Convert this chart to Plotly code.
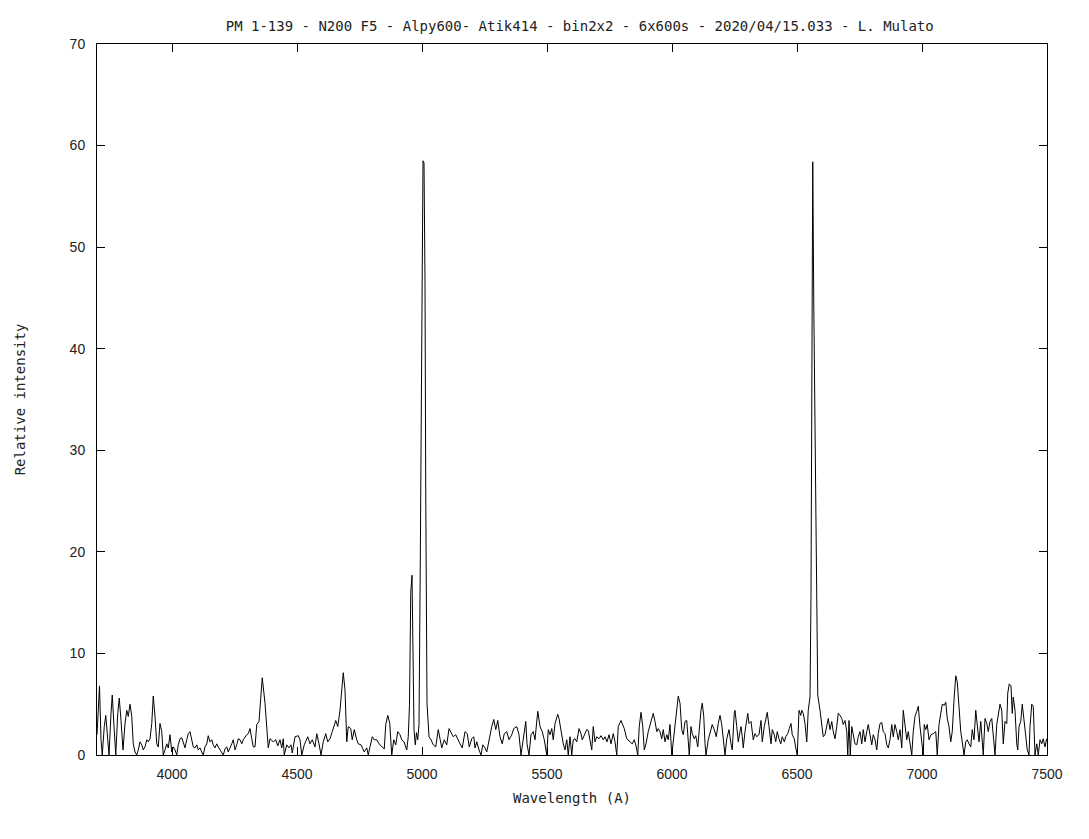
import plotly.graph_objects as go

# Wavelength (Angstrom) and relative intensity
wl_blue = [3700, 3710, 3716, 3721, 3729, 3735, 3743, 3748, 3756, 3761,
           3768, 3775, 3783, 3789, 3796, 3804, 3812, 3819, 3825, 3832,
           3839, 3845, 3852, 3859, 3865, 3872, 3879, 3885, 3892, 3899,
           3905, 3912, 3919, 3925, 3932, 3939, 3945, 3952, 3959, 3965,
           3972, 3979, 3985, 3992, 3999, 4005, 4012, 4019, 4025, 4032,
           4039, 4045, 4052, 4059, 4065, 4072, 4079, 4085, 4092, 4099,
           4105, 4112, 4119, 4125, 4132, 4139, 4145, 4152, 4159, 4165,
           4172, 4179, 4185, 4192, 4199, 4205, 4212, 4219, 4225, 4232,
           4239, 4245, 4252, 4259, 4265, 4272, 4279, 4285, 4292, 4299,
           4305, 4312, 4319, 4325]
int_blue = [2.0, 6.8, 1.5, 0.0, 2.8, 3.9, 1.5, 0.0, 4.1, 5.9,
            2.8, 0.0, 4.1, 5.6, 3.4, 0.5, 3.1, 4.4, 3.8, 5.0,
            3.8, 1.1, 0.3, 0.0, 0.5, 1.3, 1.0, 0.5, 0.8, 1.5,
            1.3, 1.6, 3.1, 5.8, 3.8, 1.1, 0.8, 3.1, 2.3, 0.0,
            0.5, 1.1, 0.7, 2.0, 0.3, 0.8, 0.5, 0.0, 1.0, 1.6,
            1.7, 1.1, 0.7, 1.5, 2.1, 2.3, 1.5, 0.8, 0.7, 1.0,
            0.5, 0.7, 0.3, 0.0, 0.8, 1.1, 1.9, 1.3, 1.5, 1.0,
            0.7, 1.1, 0.8, 0.5, 0.2, 0.0, 0.6, 0.8, 0.3, 0.8,
            1.1, 1.5, 0.5, 1.0, 1.6, 1.5, 1.1, 1.5, 1.8, 2.0,
            2.1, 2.6, 1.6, 0.8]

wl_mid = [4332, 4339, 4348, 4361, 4372, 4379, 4385, 4392, 4405, 4415,
          4423, 4432, 4439, 4445, 4449, 4459, 4468, 4476, 4481, 4492,
          4505, 4512, 4519, 4529, 4543, 4552, 4561, 4572, 4579, 4588,
          4596, 4605, 4615, 4623, 4632, 4641, 4649, 4655, 4663, 4672,
          4679, 4685, 4692, 4699, 4705, 4715, 4721, 4729, 4739, 4745,
          4756, 4761, 4769, 4779, 4785, 4792, 4801, 4809, 4819, 4828,
          4839, 4849, 4855, 4863, 4871, 4879, 4887, 4895, 4903, 4912,
          4919, 4928, 4939, 4945,
          4950, 4955, 4960, 4964, 4968, 4973, 4978, 4983, 4988, 4993,
          4998, 5004, 5008, 5012, 5015, 5020,
          5028, 5036, 5045, 5055, 5065, 5072, 5079, 5089, 5099, 5108,
          5119, 5125, 5135, 5143, 5152, 5161, 5172, 5181, 5189, 5199,
          5207, 5212, 5219, 5228, 5236, 5243, 5252, 5259, 5268, 5279,
          5287, 5295, 5303, 5312, 5321, 5329, 5339, 5348, 5359, 5367,
          5379, 5388, 5396, 5405, 5415, 5420, 5428, 5436, 5445, 5452,
          5463, 5472, 5481, 5489, 5499, 5505, 5512, 5519, 5525, 5532,
          5543, 5548, 5556, 5565, 5572, 5579, 5585, 5592, 5599, 5605]
int_mid = [0.8, 3.0, 3.3, 7.6, 5.1, 2.8, 0.7, 1.6, 1.3, 1.5,
           0.9, 1.5, 0.7, 1.6, 0.0, 1.0, 0.7, 1.0, 0.2, 1.8,
           1.9, 1.5, 0.0, 1.0, 1.8, 1.1, 1.5, 0.8, 2.1, 1.1,
           0.0, 1.3, 2.1, 1.3, 1.6, 2.3, 3.0, 3.4, 2.8, 4.4,
           6.4, 8.1, 6.4, 1.3, 2.8, 2.6, 1.5, 2.5, 1.5, 1.1,
           1.0, 0.7, 0.3, 0.7, 0.0, 0.8, 1.8, 1.5, 1.5, 1.1,
           0.8, 0.6, 3.0, 3.9, 3.1, 0.0, 1.5, 1.0, 2.3, 2.0,
           1.5, 1.3, 0.5, 1.8,
           5.0, 16.0, 17.7, 12.0, 2.5, 1.0, 2.2, 1.5, 3.0, 18.6,
           43.5, 58.5, 58.3, 46.7, 25.5, 5.1,
           1.8, 1.5, 1.0, 0.8, 2.5, 1.5, 0.7, 1.5, 1.0, 2.6,
           2.1, 1.8, 2.0, 1.5, 1.1, 0.7, 2.3, 2.1, 0.8, 1.6,
           1.8, 0.7, 1.3, 0.5, 0.0, 1.0, 0.7, 0.3, 1.6, 2.8,
           3.5, 2.5, 3.4, 1.8, 1.1, 2.1, 2.3, 1.5, 2.0, 2.6,
           2.8, 2.0, 0.0, 1.6, 3.3, 1.1, 0.0, 2.0, 2.3, 1.5,
           4.3, 2.8, 2.3, 1.5, 0.0, 2.5, 2.0, 2.6, 1.5, 3.1,
           4.0, 3.6, 2.3, 1.1, 0.5, 1.5, 0.0, 1.8, 0.0, 1.5]

wl_red = [5612, 5619, 5628, 5636, 5641, 5649, 5659, 5665, 5672, 5679,
          5685, 5692, 5699, 5708, 5716, 5725, 5732, 5740, 5748, 5756,
          5765, 5772, 5779, 5785, 5796, 5803, 5809, 5819, 5825, 5832,
          5841, 5849, 5857, 5863, 5869, 5876, 5883, 5889, 5896, 5905,
          5916, 5925, 5932, 5939, 5945, 5952, 5959, 5965, 5972, 5979,
          5985, 5992, 5999, 6005, 6012, 6019, 6025, 6032, 6039, 6045,
          6052, 6059, 6065, 6069, 6076, 6081, 6089, 6095, 6103, 6108,
          6116, 6121, 6127, 6132, 6136, 6145, 6152, 6161, 6169, 6177,
          6185, 6192, 6199, 6205, 6212, 6219, 6228, 6236, 6241, 6249,
          6252, 6259, 6265, 6272, 6276, 6281, 6285, 6292, 6299, 6303,
          6308, 6316, 6325, 6332, 6339, 6348, 6356, 6361, 6369, 6375,
          6381, 6388, 6396, 6401, 6409, 6415, 6421, 6428, 6435, 6441,
          6449, 6455, 6463, 6469, 6476, 6481, 6489, 6495, 6501, 6508,
          6515, 6519, 6525, 6532, 6539, 6545, 6552,
          6556, 6559, 6563, 6567, 6572, 6577, 6583, 6592,
          6599, 6605, 6612, 6619, 6625, 6632, 6639, 6645, 6652, 6659,
          6665, 6672, 6679, 6685, 6692, 6699, 6703, 6708, 6713, 6719,
          6725, 6732, 6739, 6745, 6752, 6759, 6765, 6772, 6779, 6785,
          6792, 6799, 6805, 6812, 6819, 6825, 6832, 6839, 6845, 6852,
          6859, 6865, 6872, 6879, 6885]
int_red = [1.6, 1.3, 2.6, 2.1, 1.5, 2.0, 2.5, 2.4, 1.6, 0.5,
           2.8, 1.3, 1.8, 1.6, 1.9, 1.5, 1.8, 1.3, 2.0, 1.1,
           2.1, 1.3, 0.0, 2.8, 3.4, 3.0, 2.6, 1.6, 1.5, 1.3,
           1.1, 1.5, 0.8, 0.0, 2.8, 4.2, 2.8, 0.5, 1.1, 2.3,
           3.3, 4.1, 3.3, 2.3, 2.6, 2.3, 1.6, 2.5, 1.3, 2.0,
           1.5, 3.0, 0.0, 1.5, 2.8, 4.4, 5.8, 5.1, 2.5, 2.0,
           3.3, 3.4, 1.5, 0.0, 2.8, 2.1, 1.6, 1.9, 0.8, 2.5,
           4.4, 5.1, 3.8, 1.1, 0.0, 1.5, 2.1, 3.0, 2.5, 1.8,
           3.1, 3.9, 3.0, 1.5, 0.0, 1.6, 2.5, 1.1, 0.5, 4.1,
           4.4, 2.8, 1.3, 2.3, 2.8, 1.8, 0.7, 2.3, 3.4, 4.1,
           3.1, 3.3, 1.5, 2.1, 1.8, 2.0, 3.4, 1.3, 2.8, 3.6,
           4.2, 2.8, 1.1, 2.5, 2.0, 1.3, 2.3, 1.6, 1.1, 1.8,
           1.3, 1.8, 2.1, 2.6, 3.1, 2.0, 1.6, 0.7, 0.0, 4.4,
           3.9, 4.4, 4.1, 3.1, 1.3, 4.4, 5.7,
           15.8, 42.5, 58.4, 44.7, 31.2, 15.4, 5.9, 4.4,
           3.1, 1.8, 2.0, 2.8, 3.6, 2.5, 3.3, 2.3, 1.6, 2.8,
           4.1, 3.9, 3.6, 3.0, 3.4, 2.3, 0.0, 3.4, 0.0, 2.8,
           1.8, 1.1, 1.0, 1.8, 2.3, 1.1, 2.5, 1.3, 2.3, 3.0,
           2.0, 1.0, 2.0, 1.5, 0.5, 2.1, 3.1, 3.2, 2.3, 2.1,
           1.0, 0.7, 1.5, 3.0, 1.8]

wl_ir = [6892, 6899, 6905, 6912, 6919, 6925, 6932, 6939, 6945, 6952,
         6959, 6965, 6972, 6979, 6985, 6992, 6999, 7005, 7009, 7015,
         7021, 7028, 7036, 7045, 7055, 7061, 7068, 7075, 7081, 7089,
         7095, 7101, 7108, 7115, 7121, 7128, 7135, 7141, 7148, 7155,
         7161, 7168, 7175, 7181, 7188, 7195, 7201, 7208, 7215, 7221,
         7228, 7235, 7241, 7245, 7252, 7259, 7265, 7272, 7279, 7285,
         7292, 7299, 7305, 7312, 7319, 7325, 7332, 7339, 7343, 7349,
         7356, 7361, 7365, 7372, 7379, 7383, 7388, 7395, 7401, 7408,
         7415, 7421, 7428, 7432, 7439, 7445, 7452, 7459, 7465, 7472,
         7479, 7485, 7492, 7499]
int_ir = [3.0, 2.3, 1.5, 2.5, 0.7, 4.4, 3.0, 1.5, 2.3, 1.3,
          0.0, 2.3, 3.8, 4.3, 4.8, 2.8, 1.3, 0.0, 3.0, 2.5,
          3.0, 1.5, 2.0, 2.1, 2.3, 0.0, 3.0, 4.1, 5.0, 4.9,
          5.2, 3.6, 2.8, 1.3, 2.3, 5.4, 7.8, 7.2, 4.4, 2.3,
          1.3, 0.0, 1.3, 1.5, 1.1, 0.8, 2.5, 1.5, 4.4, 2.8,
          1.3, 3.3, 1.5, 0.0, 3.6, 3.1, 2.3, 3.3, 3.6, 1.5,
          0.0, 3.0, 4.1, 5.0, 4.4, 1.1, 3.3, 3.1, 6.1, 7.0,
          6.8, 4.1, 5.7, 4.4, 1.1, 0.5, 2.8, 3.3, 5.0, 3.4,
          1.8, 0.5, 0.0, 2.8, 5.0, 4.8, 0.0, 1.1, 0.0, 1.5,
          1.1, 1.6, 0.8, 1.6]

wavelength = wl_blue + wl_mid + wl_red + wl_ir
intensity = int_blue + int_mid + int_red + int_ir

title_text = "PM 1-139 - N200 F5 - Alpy600- Atik414 - bin2x2 - 6x600s - 2020/04/15.033 - L. Mulato"
x_ticks = [4000, 4500, 5000, 5500, 6000, 6500, 7000, 7500]
y_ticks = [0, 10, 20, 30, 40, 50, 60, 70]

fig = go.Figure()
fig.add_trace(go.Scatter(
    x=wavelength, y=intensity, mode="lines",
    line=dict(color="#000000", width=1),
    showlegend=False, hoverinfo="skip",
))

tick_font = "Liberation Sans, Arial, sans-serif"
label_font = "DejaVu Sans Mono, Liberation Mono, monospace"
axis_common = dict(
    showgrid=False, zeroline=False, showline=True, linecolor="#000000",
    linewidth=1, mirror="ticks", ticks="inside", ticklen=8,
    tickcolor="#000000", tickwidth=1, automargin=False,
    tickfont=dict(family=tick_font, size=14, color="#222222"),
)

fig.update_layout(
    width=1089, height=839,
    margin=dict(l=89, r=50, t=36, b=92),
    paper_bgcolor="#ffffff", plot_bgcolor="#ffffff",
    title=dict(text=title_text, x=0.525, xanchor="center", y=0.978, yanchor="middle",
               font=dict(family=label_font, size=14, color="#222222")),
    xaxis=dict(range=[3700, 7500], tickvals=x_ticks,
               title=dict(text="Wavelength (A)", standoff=12,
                          font=dict(family=label_font, size=14, color="#222222")),
               ticklabelstandoff=6, **axis_common),
    yaxis=dict(range=[0, 70], tickvals=y_ticks,
               title=dict(text="Relative intensity", standoff=40,
                          font=dict(family=label_font, size=14, color="#222222")),
               ticklabelstandoff=8, **axis_common),
)

fig.write_html("out.html")
